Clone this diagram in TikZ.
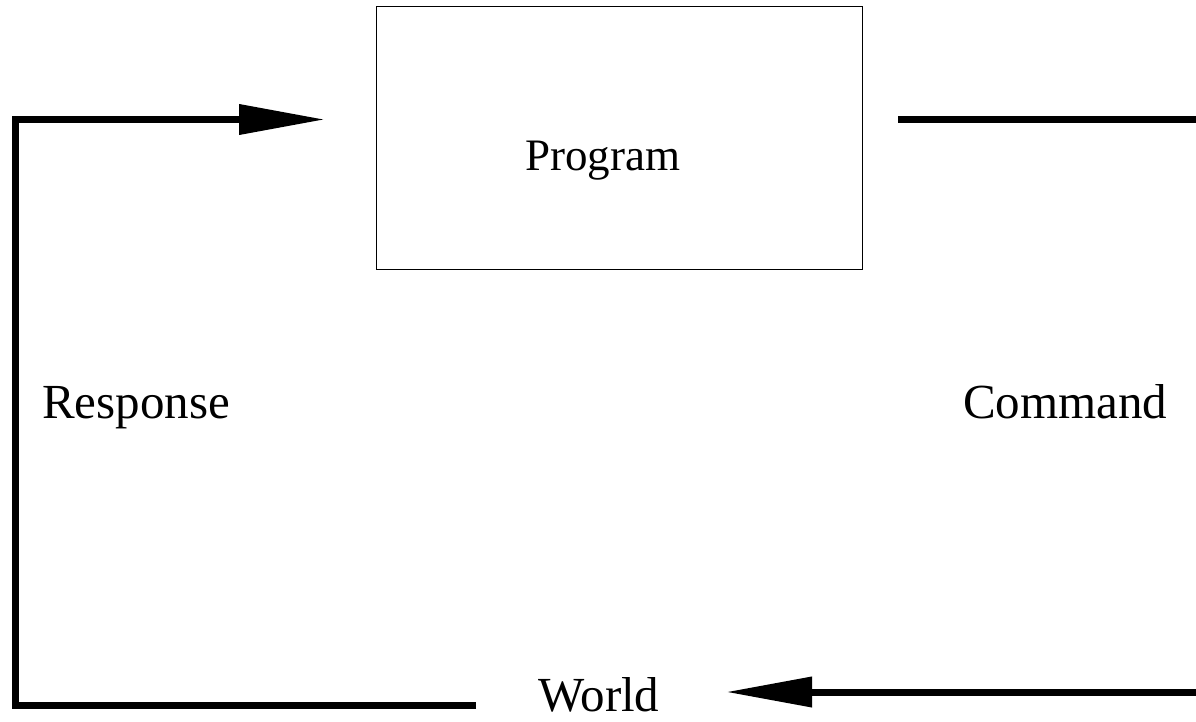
\documentclass[tikz,border=0pt]{standalone}
\usepackage{fontspec}
\setmainfont{Liberation Serif}
\usetikzlibrary{arrows.meta}
\begin{document}
\begin{tikzpicture}[x=1pt,y=-1pt,
  flow/.style={line width=7pt, line join=miter},
  flowarrow/.style={flow, -{Triangle[length=86pt,width=29pt]}},
  lbl/.style={inner sep=0pt, anchor=base west, font=\fontsize{49}{55}\selectfont},
  boxstyle/.style={draw, line width=1pt, minimum width=486pt, minimum height=262pt, inner sep=0pt}]
\useasboundingbox (0,0) rectangle (1196,722);
\node[boxstyle] (prog) at (619,138) {};
\node[inner sep=0pt, anchor=base west, font=\fontsize{45}{50}\selectfont] (progtext) at (525,171) {Program};
\node[lbl] (resp) at (42,418) {Response};
\node[lbl] (cmd) at (963,418) {Command};
\node[lbl] (world) at (538,711) {World};
% left loop
\coordinate (wl) at (476,705.5);
\coordinate (bl) at (15.5,705.5);
\coordinate (tl) at (15.5,119.5);
\coordinate (pin) at (325,119.5);
\draw[flowarrow] (wl) -- (bl) -- (tl) -- (pin);
% right side
\coordinate (pout) at (898,119.5);
\coordinate (tr) at (1205,119.5);
\draw[flow] (pout) -- (tr);
\coordinate (br) at (1205,692);
\coordinate (win) at (726,692);
\draw[flowarrow] (br) -- (win);
\end{tikzpicture}
\end{document}
